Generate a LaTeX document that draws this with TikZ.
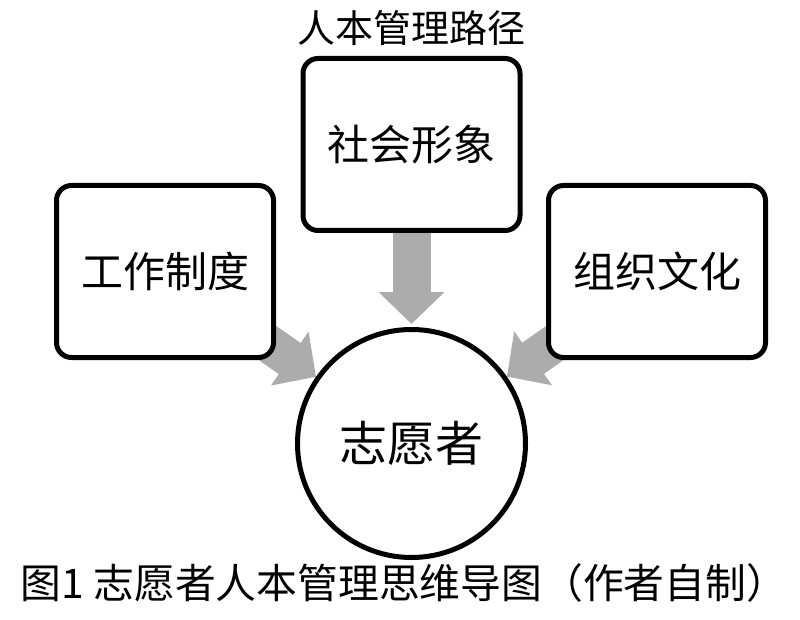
\documentclass[tikz,border=0pt]{standalone}
\usepackage{fontspec}
\usepackage{tikz}
\usetikzlibrary{arrows.meta, positioning, backgrounds}
\newfontfamily\cjk{Noto Sans CJK SC}
\definecolor{arrowgray}{RGB}{172,172,172}

\begin{document}
\begin{tikzpicture}[
    x=1pt, y=-1pt,
    box/.style={draw, line width=5pt, fill=white, rounded corners=15pt, minimum width=217pt, minimum height=172pt, font=\cjk\fontsize{42}{48}\selectfont},
    hub/.style={circle, draw, line width=5pt, fill=white, minimum size=228pt, font=\cjk\fontsize{48}{54}\selectfont},
    flow/.style={draw=arrowgray, line width=38pt, -{Triangle[length=32pt, width=64pt]}}
]
    \useasboundingbox (0,0) rectangle (800,620);

    \node[font=\cjk\fontsize{38}{44}\selectfont] (title) at (411,28) {人本管理路径};
    \node[box] (social) at (411.5,144.5) {社会形象};
    \node[box] (work) at (165,271.5) {工作制度};
    \node[box] (culture) at (657,271.5) {组织文化};
    \node[hub] (volunteer) at (411.5,443.5) {志愿者};
    \node[font=\cjk\fontsize{40.8}{46}\selectfont] (caption) at (404,583) {图1 志愿者人本管理思维导图（作者自制）};

    \begin{scope}[on background layer]
        \draw[flow, shorten >=3pt] (social) -- (volunteer);
        \draw[flow] (work.center) -- (volunteer);
        \draw[flow] (culture.center) -- (volunteer);
    \end{scope}
\end{tikzpicture}
\end{document}
